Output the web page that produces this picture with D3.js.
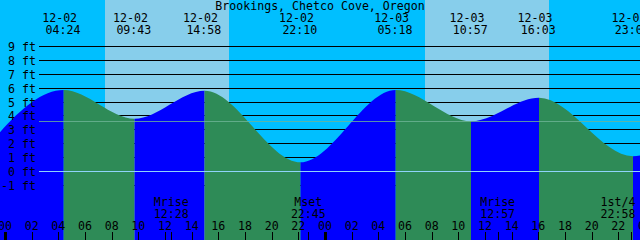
<!DOCTYPE html>
<html>
<head>
<meta charset="utf-8">
<script src="https://cdn.jsdelivr.net/npm/d3@7"></script>
<style>
  html, body { margin: 0; padding: 0; background: #00bfff; }
  svg { display: block; }
  text { font-family: "DejaVu Sans Mono", monospace; font-size: 11.6px; fill: #000; }
</style>
</head>
<body>
<svg id="chart" width="640" height="240"></svg>
<script>
// ---- data ----
const title = "Brookings, Chetco Cove, Oregon";
// high / low tide extremes (first and last lie just outside the visible window)
const tideTimes  = ["12-01 21:36", "12-02 04:24", "12-02 09:43", "12-02 14:58", "12-02 22:10",
                    "12-03 05:18", "12-03 10:57", "12-03 16:03", "12-03 23:06", "12-04 05:40"];
const tideLevels = [0.5, 5.87, 3.8, 5.82, 0.66, 5.87, 3.62, 5.31, 1.1, 5.8];
// moon events
const moonTimes  = ["12-02 12:28", "12-02 22:45", "12-03 12:57", "12-03 22:58"];
const moonLabels = ["Mrise", "Mset", "Mrise", "1st/4"];
// daylight periods (sunrise, sunset)
const sunrise = ["12-02 07:30", "12-03 07:30"];
const sunset  = ["12-02 16:48", "12-03 16:48"];
// y axis ticks (feet)
const levelTicks = [-1, 0, 1, 2, 3, 4, 5, 6, 7, 8, 9];
const datumLevel = 0;
const meanLevel = 3.66;
// hour ticks
const hourTicks = d3.range(0, 49, 2);

// ---- helpers ----
function hoursOf(s) {            // hours since 12-02 00:00
  const [md, hm] = s.split(" ");
  const day = +md.split("-")[1];
  const [h, m] = hm.split(":").map(Number);
  return (day - 2) * 24 + h + m / 60;
}

const W = 640, H = 240;
const svg = d3.select("#chart");
const x = d3.scaleLinear().domain([0, 48]).range([5, 645]);
const y = d3.scaleLinear().domain([0, 9]).range([171.5, 46.5]);

const tides = tideTimes.map((t, i) => ({ t: hoursOf(t), v: tideLevels[i], s: t }));

// ---- background: night / day ----
svg.append("rect").attr("x", 0).attr("y", 0).attr("width", W).attr("height", H).attr("fill", "#00bfff");
svg.selectAll("rect.day").data(sunrise).enter().append("rect")
  .attr("class", "day")
  .attr("x", (d) => x(hoursOf(d)))
  .attr("y", 0)
  .attr("width", (d, i) => x(hoursOf(sunset[i])) - x(hoursOf(d)))
  .attr("height", H)
  .attr("fill", "#87ceeb");

// ---- horizontal level lines ----
svg.selectAll("line.lvl").data(levelTicks).enter().append("line")
  .attr("class", "lvl")
  .attr("x1", 39).attr("x2", W)
  .attr("y1", (d) => y(d)).attr("y2", (d) => y(d))
  .attr("stroke", "#000").attr("stroke-width", 1)
  .attr("shape-rendering", "crispEdges");

// ---- tide curve, coloured rising / falling ----
const area = d3.area()
  .x((d) => x(d.t))
  .y0(H)
  .y1((d) => y(d.v))
  .curve(d3.curveMonotoneX);

const defs = svg.append("defs");
for (let i = 0; i < tides.length - 1; i++) {
  const a = tides[i], b = tides[i + 1];
  const id = "seg" + i;
  defs.append("clipPath").attr("id", id)
    .append("rect")
    .attr("x", x(a.t)).attr("y", 0)
    .attr("width", x(b.t) - x(a.t)).attr("height", H);
  svg.append("path")
    .datum(tides)
    .attr("d", area)
    .attr("clip-path", `url(#${id})`)
    .attr("fill", b.v > a.v ? "#0000ff" : "#2e8b57");
}

// ---- datum and mean lines ----
svg.append("line")
  .attr("x1", 39).attr("x2", W)
  .attr("y1", Math.round(y(meanLevel)) + 0.5).attr("y2", Math.round(y(meanLevel)) + 0.5)
  .attr("stroke", "rgb(110,180,150)").attr("stroke-opacity", 0.8)
  .attr("shape-rendering", "crispEdges");
svg.append("line")
  .attr("x1", 39).attr("x2", W)
  .attr("y1", y(datumLevel)).attr("y2", y(datumLevel))
  .attr("stroke", "#8fd3fa")
  .attr("shape-rendering", "crispEdges");

// ---- y labels ----
svg.selectAll("text.ylab").data(levelTicks).enter().append("text")
  .attr("class", "ylab")
  .attr("x", 36)
  .attr("y", (d) => y(d) + 4.5)
  .attr("text-anchor", "end")
  .text((d) => `${d} ft`);

// ---- title ----
svg.append("text").attr("x", 320).attr("y", 10).attr("text-anchor", "middle").text(title);

// ---- extreme labels (top) ----
const visibleTides = tides.filter((d) => x(d.t) >= 0 && x(d.t) <= W);
const extG = svg.selectAll("g.ext").data(visibleTides).enter().append("g").attr("class", "ext");
extG.append("text")
  .attr("x", (d) => x(d.t) - 4)
  .attr("y", 22)
  .attr("text-anchor", "middle")
  .text((d) => d.s.split(" ")[0]);
extG.append("text")
  .attr("x", (d) => x(d.t) - 0.7)
  .attr("y", 34)
  .attr("text-anchor", "middle")
  .text((d) => d.s.split(" ")[1]);

// ---- bottom ticks ----
svg.selectAll("line.htick").data(hourTicks).enter().append("line")
  .attr("class", "htick")
  .attr("x1", (d) => Math.round(x(d)) + 0.5).attr("x2", (d) => Math.round(x(d)) + 0.5)
  .attr("y1", 232).attr("y2", H)
  .attr("stroke", "#000")
  .attr("stroke-width", (d) => (d % 24 === 0 ? 3 : 1))
  .attr("shape-rendering", "crispEdges");
svg.selectAll("text.hlab").data(hourTicks).enter().append("text")
  .attr("class", "hlab")
  .attr("x", (d) => x(d))
  .attr("y", 230)
  .attr("text-anchor", "middle")
  .text((d) => String(d % 24).padStart(2, "0"));

// ---- moon events ----
const moon = moonTimes.map((t, i) => ({ t: hoursOf(t), s: t, label: moonLabels[i] }));
svg.selectAll("line.mtick").data(moon).enter().append("line")
  .attr("class", "mtick")
  .attr("x1", (d) => Math.round(x(d.t)) + 0.5).attr("x2", (d) => Math.round(x(d.t)) + 0.5)
  .attr("y1", 232).attr("y2", H)
  .attr("stroke", "#000")
  .attr("shape-rendering", "crispEdges");
const mg = svg.selectAll("g.moon").data(moon).enter().append("g").attr("class", "moon");
const mx = (d) => Math.min(x(d.t), W - 22);
mg.append("text").attr("x", mx).attr("y", 206).attr("text-anchor", "middle").text((d) => d.label);
mg.append("text").attr("x", mx).attr("y", 218).attr("text-anchor", "middle").text((d) => d.s.split(" ")[1]);
</script>
</body>
</html>
